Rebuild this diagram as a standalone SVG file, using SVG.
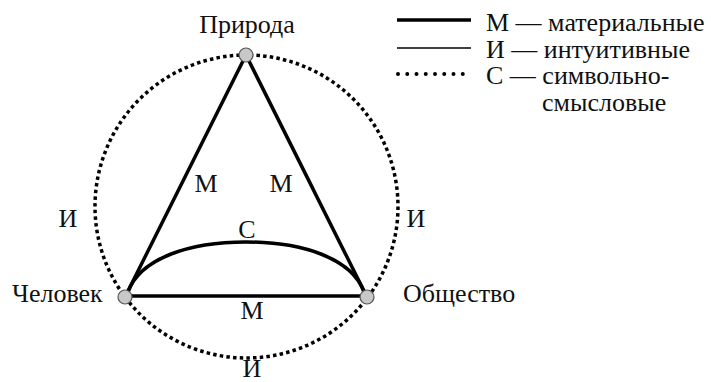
<svg xmlns="http://www.w3.org/2000/svg" width="711" height="382" viewBox="0 0 711 382">
<style>
.thick{stroke:#000;stroke-width:3.5;fill:none}
.thin{stroke:#000;stroke-width:1.4;fill:none}
.dot{stroke:#000;stroke-width:3.5;fill:none;stroke-dasharray:3.5 3.2}
.node{fill:#c8c8c8;stroke:#555;stroke-width:1.2}
</style>
<g id="connectors">
<circle class="dot" cx="246.5" cy="206.5" r="151.5"/>
<line class="thick" x1="246" y1="55" x2="125" y2="297"/>
<line class="thick" x1="246" y1="55" x2="367" y2="297"/>
<line class="thick" x1="125" y1="296" x2="367" y2="296"/>
<path class="thick" d="M128,292 C140,258 190,242 246,242 C302,242 352,258 364,292"/>
</g>
<g id="labels" text-anchor="middle">
<text x="206" y="192" style="font-family:'Liberation Serif';font-size:26px;fill:#111">М</text>
<text x="281" y="192" style="font-family:'Liberation Serif';font-size:26px;fill:#111">М</text>
<text x="247" y="238" style="font-family:'Liberation Serif';font-size:26px;fill:#111">С</text>
<text x="252" y="319" style="font-family:'Liberation Serif';font-size:26px;fill:#111">М</text>
<text x="68" y="227" style="font-family:'Liberation Serif';font-size:26px;fill:#111">И</text>
<text x="416" y="227" style="font-family:'Liberation Serif';font-size:26px;fill:#111">И</text>
<text x="252" y="377" style="font-family:'Liberation Serif';font-size:26px;fill:#111">И</text>
</g>
<g id="node-priroda">
<circle class="node" cx="246" cy="55" r="7"/>
<text x="247" y="33" text-anchor="middle" style="font-family:'Liberation Serif';font-size:26px;fill:#111">Природа</text>
</g>
<g id="node-chelovek">
<circle class="node" cx="125" cy="297" r="7"/>
<text x="12" y="302" style="font-family:'Liberation Serif';font-size:26px;fill:#111">Человек</text>
</g>
<g id="node-obshchestvo">
<circle class="node" cx="367" cy="297" r="7"/>
<text x="403" y="302" style="font-family:'Liberation Serif';font-size:26px;fill:#111">Общество</text>
</g>
<g id="legend">
<line class="thick" x1="397" y1="20" x2="471" y2="20" stroke-width="4"/>
<line class="thin" x1="397" y1="48" x2="471" y2="48"/>
<line x1="398" y1="74" x2="472" y2="74" stroke="#000" stroke-width="4" stroke-linecap="round" stroke-dasharray="0 9.25"/>
<text x="486" y="31" style="font-family:'Liberation Serif';font-size:26px;fill:#111">М — материальные</text>
<text x="486" y="58" style="font-family:'Liberation Serif';font-size:26px;fill:#111">И — интуитивные</text>
<text x="486" y="84" style="font-family:'Liberation Serif';font-size:26px;fill:#111">С — символьно-</text>
<text x="542" y="111" style="font-family:'Liberation Serif';font-size:26px;fill:#111">смысловые</text>
</g>
</svg>
